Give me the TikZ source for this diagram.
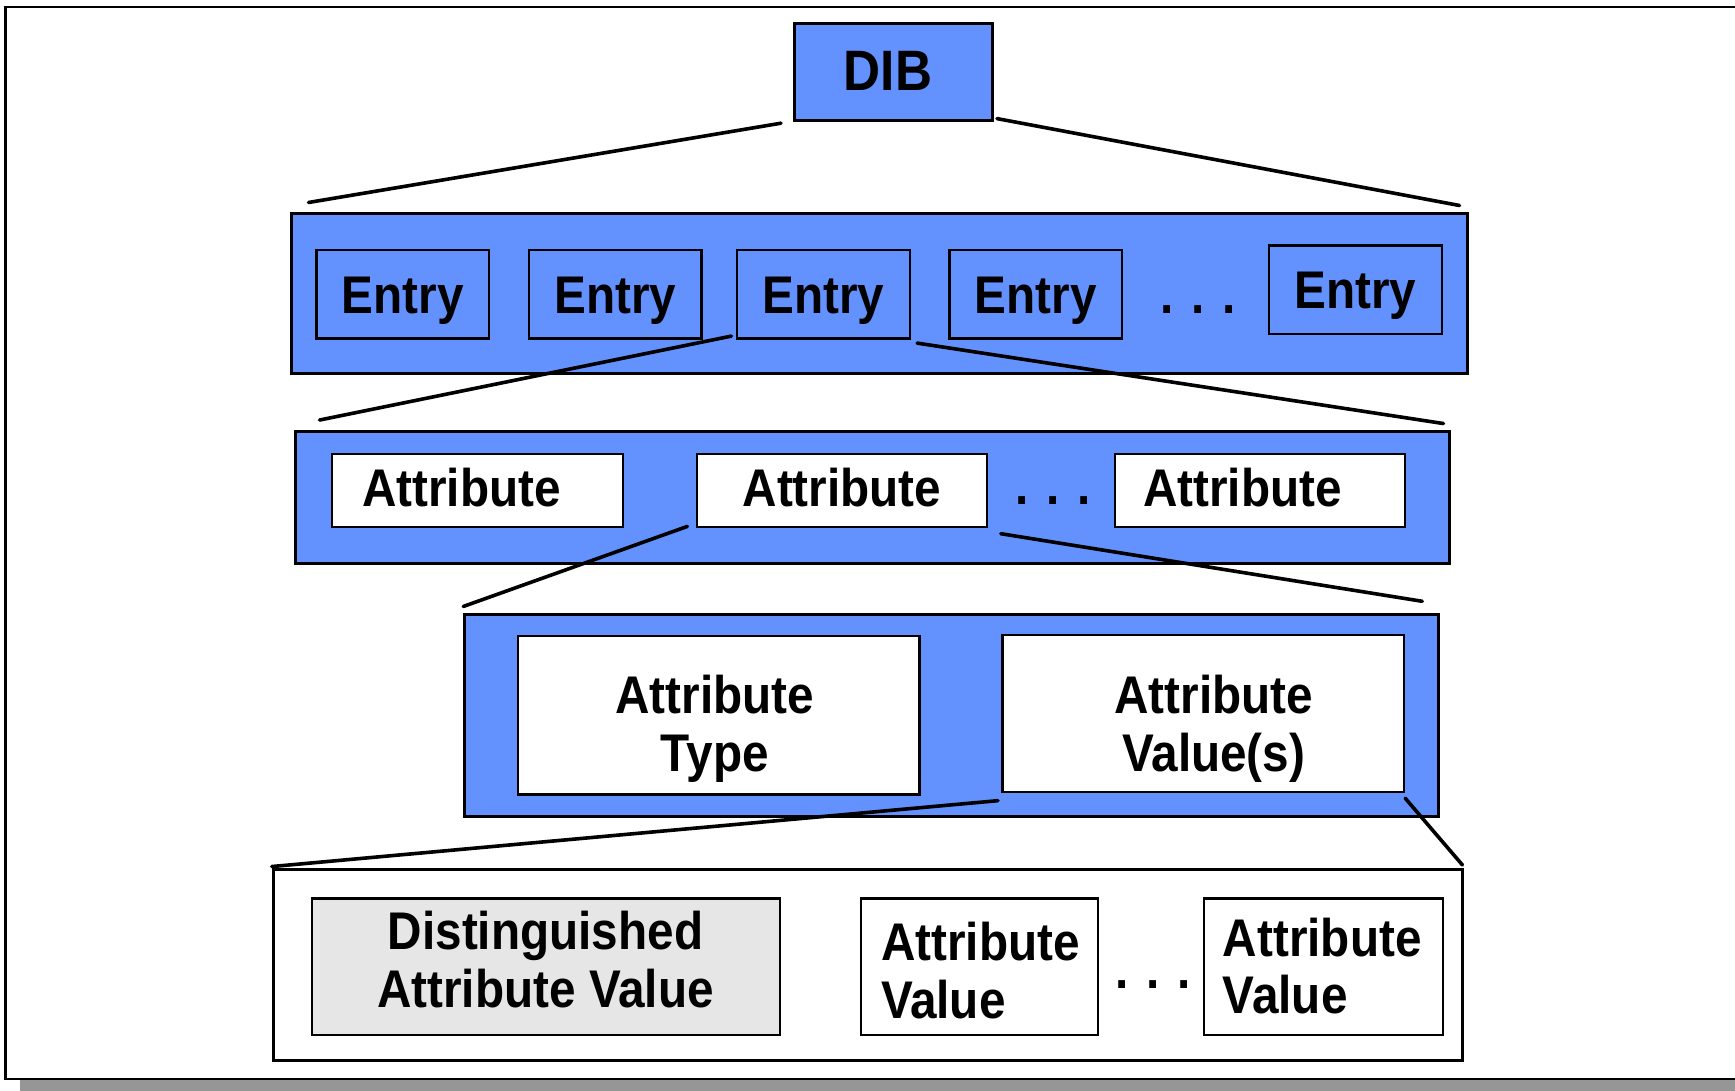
\documentclass[tikz,border=0pt]{standalone}
\usepackage{fontspec}
\setmainfont[FakeStretch=0.9]{Liberation Sans}
\usetikzlibrary{calc}
\definecolor{dibblue}{RGB}{99,146,255}
\definecolor{dvgray}{RGB}{230,230,230}
\definecolor{shadowgray}{RGB}{150,150,150}
\begin{document}
\begin{tikzpicture}[x=1pt,y=-1pt,
  cont/.style={draw=black, line width=3pt, fill=dibblue, inner sep=0pt},
  ebox/.style={draw=black, line width=2.2pt, fill=dibblue, inner sep=0pt, minimum width=172.6pt, minimum height=88.6pt},
  wbox/.style={draw=black, line width=2.2pt, fill=white, inner sep=0pt},
  lbl/.style={font=\fontsize{53}{57.5}\selectfont\bfseries, inner sep=0pt, anchor=base, align=center},
  lbll/.style={lbl, anchor=base west, align=left},
  conn/.style={line width=3.6pt, line cap=round}]
\useasboundingbox (0,0) rectangle (1735,1091);
\clip (0,0) rectangle (1735,1091);
\fill[white] (0,0) rectangle (1735,1091);
% frame
\fill[shadowgray] (20,1080) rectangle (1760,1100);
\draw[line width=2.5pt] (5.5,7) rectangle (1745,1079);

% DIB
\node[cont, minimum width=198pt, minimum height=97.4pt] (dib) at (893.5,72) {};
\node[lbl, font=\fontsize{57}{60}\selectfont\bfseries] (tdib) at (888,90.7) {DIB};

% entries
\node[cont, minimum width=1176pt, minimum height=159.4pt] (entries) at (879,293.3) {};
\node[ebox] (e1) at (402.8,294.3) {};
\node[ebox] (e2) at (615.2,294.3) {};
\node[ebox] (e3) at (823.3,294.3) {};
\node[ebox] (e4) at (1035.7,294.3) {};
\node[ebox] (e5) at (1355.5,289.8) {};
\node[lbl] (te1) at (402.8,313) {Entry};
\node[lbl] (te2) at (615.2,313) {Entry};
\node[lbl] (te3) at (823.3,313) {Entry};
\node[lbl] (te4) at (1035.7,313) {Entry};
\node[lbl] (te5) at (1355.5,308.7) {Entry};
\node[lbl] (edots) at (1198,313) {. . .};

% attributes
\node[cont, minimum width=1154.2pt, minimum height=131.7pt] (attrs) at (872.5,497.4) {};
\node[wbox, minimum width=291pt, minimum height=73pt] (a1) at (477.5,490.2) {};
\node[wbox, minimum width=290pt, minimum height=73pt] (a2) at (842,490.2) {};
\node[wbox, minimum width=290pt, minimum height=73pt] (a3) at (1260.3,490.2) {};
\node[lbll] (ta1) at (361.8,506.8) {Attribute};
\node[lbl] (ta2) at (842,506.8) {Attribute};
\node[lbll] (ta3) at (1143,506.8) {Attribute};
\node[lbl] (adots) at (1053,504.6) {. . .};

% type / values
\node[cont, minimum width=973.8pt, minimum height=202.6pt] (pair) at (951.6,715.3) {};
\node[wbox, minimum width=401.5pt, minimum height=158.5pt] (type) at (718.7,715.3) {};
\node[wbox, minimum width=401.5pt, minimum height=157.3pt] (vals) at (1203.3,713.7) {};
\node[lbl] (ttype) at (714.8,771.3) {Attribute\\Type};
\node[lbl] (tvals) at (1213.8,771.3) {Attribute\\Value(s)};

% values
\node[wbox, line width=3pt, minimum width=1189.7pt, minimum height=190.3pt] (values) at (868.1,964.9) {};
\node[wbox, fill=dvgray, minimum width=468pt, minimum height=136.1pt] (dv) at (546,966.6) {};
\node[wbox, minimum width=236.7pt, minimum height=136.1pt] (av1) at (979.3,966.6) {};
\node[wbox, minimum width=239pt, minimum height=136.1pt] (av2) at (1323.5,966.6) {};
\node[lbl] (tdv) at (545.5,1007) {Distinguished\\Attribute Value};
\node[lbll] (tav1) at (880.8,1018) {Attribute\\Value};
\node[lbll] (tav2) at (1222.7,1013.6) {Attribute\\Value};
\node[lbl] (vdots) at (1153,988) {. . .};

% connectors
\draw[conn] ($(dib.south west)+(-12,1)$) -- ($(entries.north west)+(19,-9.6)$);
\draw[conn] ($(dib.south east)+(3,-3.6)$) -- ($(entries.north east)+(-9,-6.6)$);
\draw[conn] ($(e3.south west)+(-4.5,-3.6)$) -- ($(attrs.north west)+(25.6,-10)$);
\draw[conn] ($(e3.south east)+(6.4,3.4)$) -- ($(attrs.north east)+(-7.6,-6.5)$);
\draw[conn] ($(a2.south west)+(-8.5,-1.4)$) -- ($(pair.north west)+(0,-6)$);
\draw[conn] ($(a2.south east)+(12.7,5.9)$) -- ($(pair.north east)+(-17.7,-11.2)$);
\draw[conn] ($(vals.south west)+(-3.5,7.2)$) -- ($(values.north west)+(0,-1.7)$);
\draw[conn] ($(vals.south east)+(0,4.7)$) -- ($(values.north east)+(-2,-3.2)$);
\end{tikzpicture}
\end{document}
